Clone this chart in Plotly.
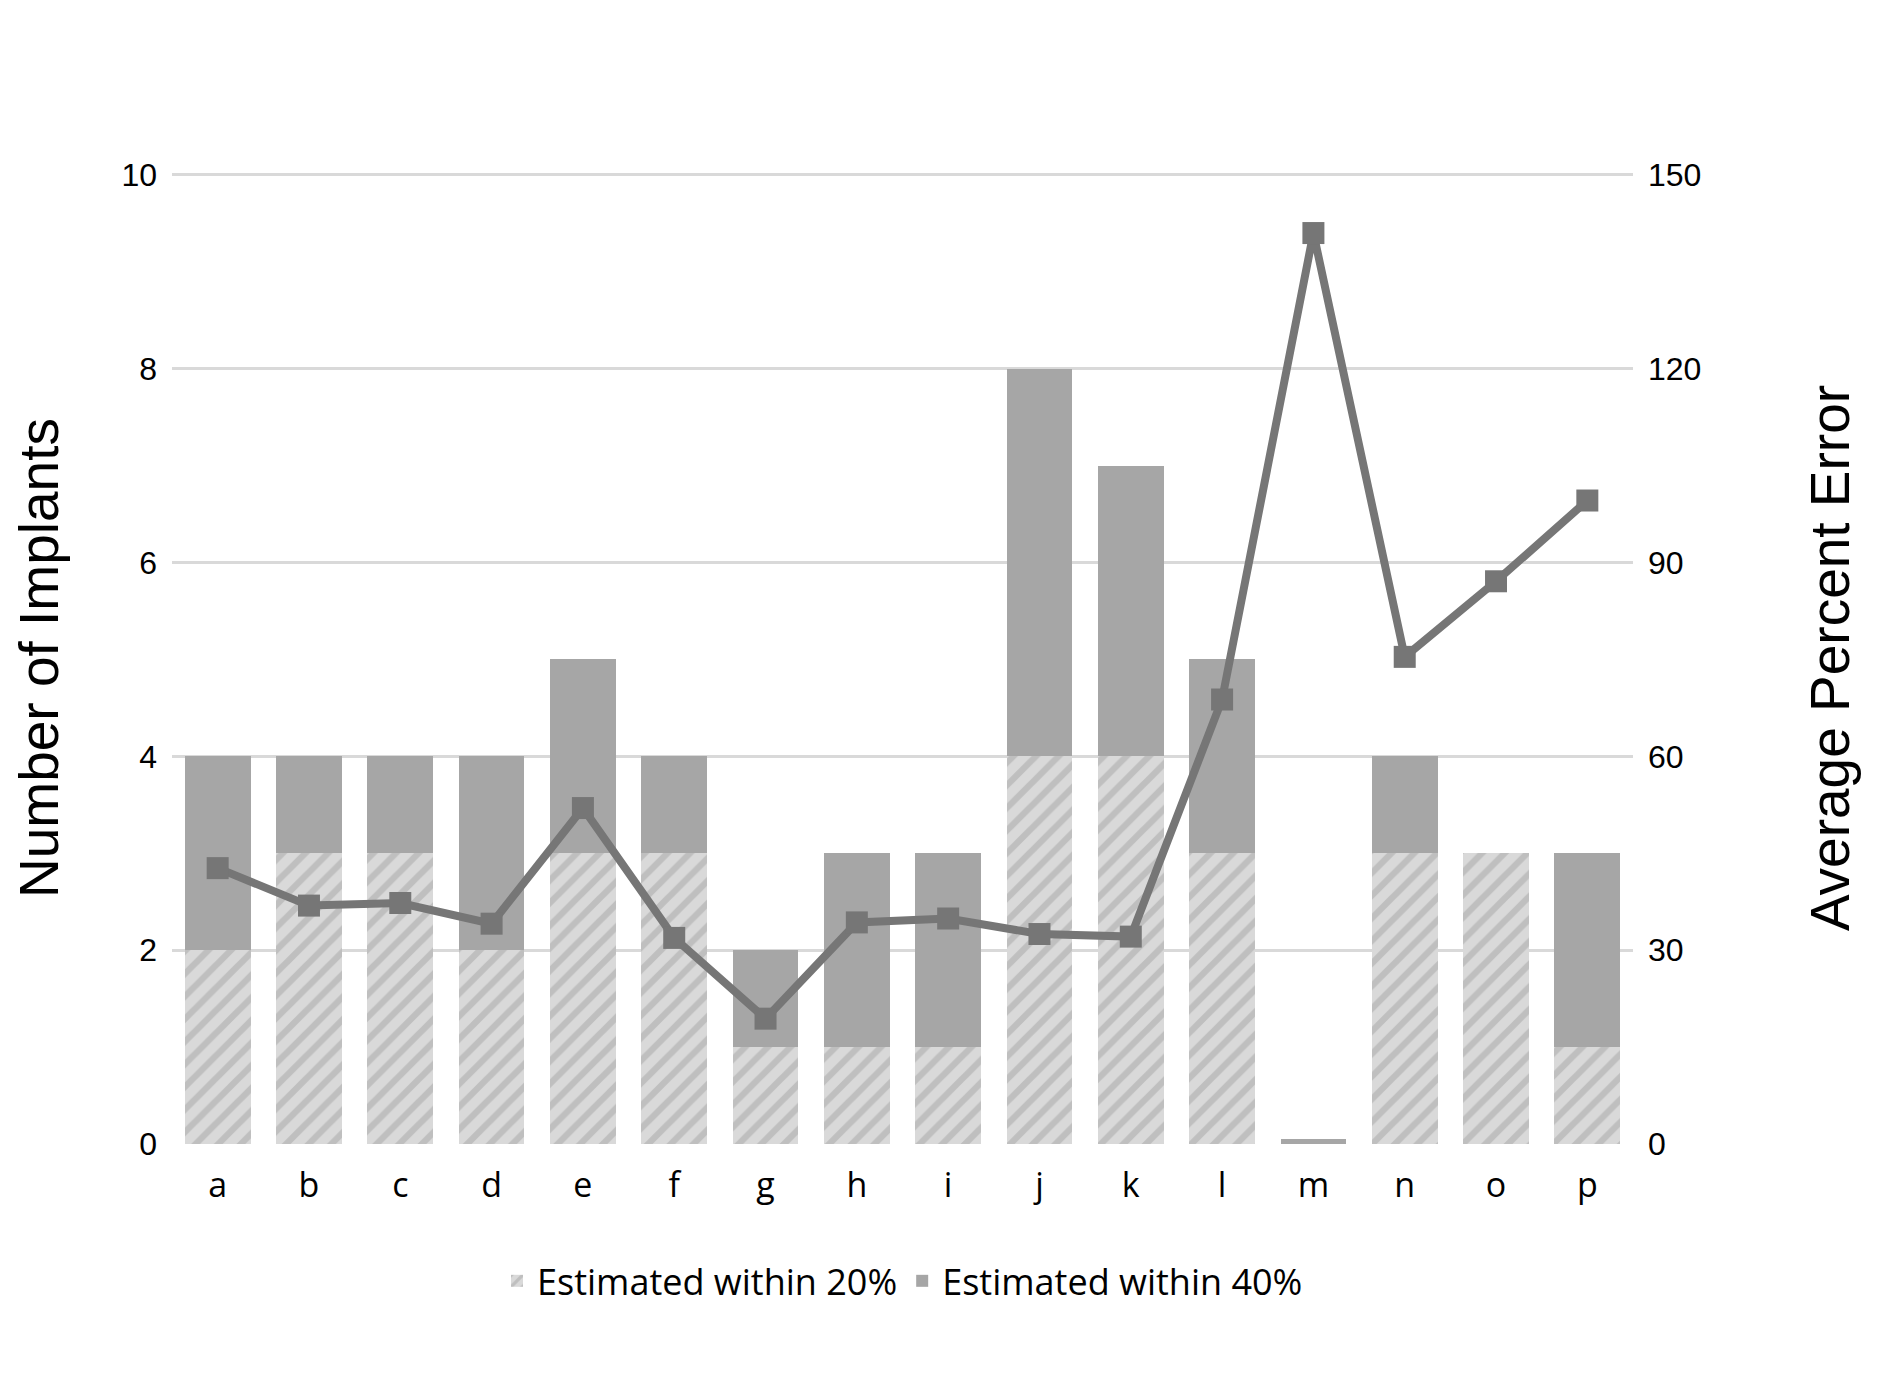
import plotly.graph_objects as go

cats = list("abcdefghijklmnop")
within20 = [2, 3, 3, 2, 3, 3, 1, 1, 1, 4, 4, 3, 0, 3, 3, 1]
within40 = [2, 1, 1, 2, 2, 1, 1, 2, 2, 4, 3, 2, 0.05, 1, 0, 2]
avg_err = [42.7, 36.9, 37.3, 34.1, 52.0, 31.9, 19.4, 34.3, 34.9, 32.5, 32.1, 68.8, 141.0, 75.4, 87.1, 99.6]

fig = go.Figure()
fig.add_bar(x=cats, y=within20, name="Estimated within 20%",
            marker=dict(color="#d9d9d9", line=dict(width=0),
                        pattern=dict(shape="/", fgcolor="#a6a6a6", bgcolor="#d9d9d9", size=16, solidity=0.4)))
fig.add_bar(x=cats, y=within40, name="Estimated within 40%",
            marker=dict(color="#a6a6a6", line=dict(width=0)))
fig.add_scatter(x=cats, y=avg_err, yaxis="y2", mode="lines+markers", showlegend=False,
                line=dict(color="#767676", width=8),
                marker=dict(symbol="square", size=22, color="#767676"))

fig.update_layout(
    barmode="stack", bargap=0.28,
    width=1892, height=1386,
    paper_bgcolor="white", plot_bgcolor="white",
    margin=dict(l=164, r=267, t=164, b=250),
    font=dict(family="Liberation Sans, Arial", color="black", size=32),
    xaxis=dict(showgrid=False, showline=False, ticks="", range=[-0.5, 15.5],
               tickfont=dict(size=34, family="Open Sans"), ticklabelstandoff=18),
    yaxis=dict(range=[0, 10.03], dtick=2, showgrid=True, gridcolor="#d9d9d9", gridwidth=3,
               zeroline=False, tickfont=dict(size=32), ticklabelstandoff=14,
               title=dict(text="Number of Implants", font=dict(size=55), standoff=45)),
    yaxis2=dict(range=[0, 150.45], dtick=30, overlaying="y", side="right", showgrid=False,
                zeroline=False, tickfont=dict(size=32), ticklabelstandoff=14,
                title=dict(text="Average Percent Error", font=dict(size=55), standoff=110)),
    legend=dict(orientation="h", x=0.5, xanchor="center", y=-0.11, yanchor="top",
                font=dict(size=36, family="Open Sans"), traceorder="normal"),
)
fig.write_html("out.html")
